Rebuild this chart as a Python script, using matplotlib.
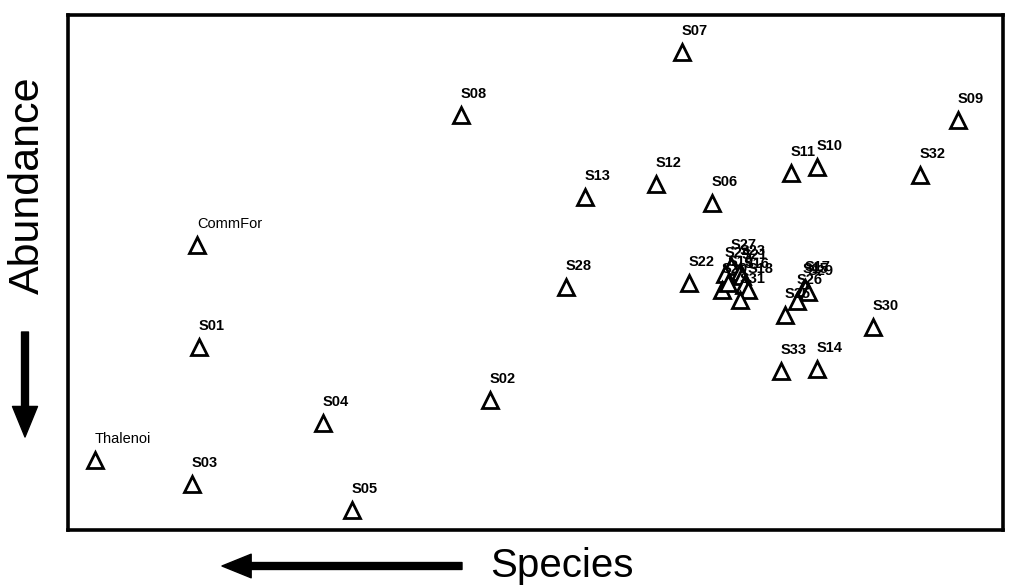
import numpy as np
import matplotlib
matplotlib.use("Agg")
import matplotlib.pyplot as plt

plt.rcParams['font.family'] = ['Liberation Sans', 'DejaVu Sans']

#------------------------------- ordination scores ---------------------------
# arbitrary units (x to the right, y upward)
sites = ["S07", "S08", "S09", "S11", "S10", "S32", "S12", "S13", "S06",
         "CommFor", "S28", "S22",
         "S27", "S24", "S23", "S21", "S20", "S16", "S18", "S19", "S31",
         "S15", "S17", "S29", "S26", "S25",
         "S30", "S01", "S33", "S14", "S02", "S04", "Thalenoi", "S03", "S05"]
axis1 = [614, 393, 890, 723, 749, 852, 588, 517, 644,
         129, 498, 621,
         663, 657, 672, 674, 654, 676, 680, 660, 672,
         735, 737, 740, 729, 717,
         805, 131, 713, 749, 422, 255, 27, 124, 284]
axis2 = [478, 415, 410, 357, 363, 355, 346, 333, 327,
         285, 243, 247,
         264, 256, 258, 254, 240, 245, 240, 247, 230,
         240, 242, 238, 229, 215,
         203, 183, 159, 161, 130, 107, 70, 46, 20]
plain_labels = ["CommFor", "Thalenoi"]

#------------------------------- figure -------------------------------------
fig = plt.figure(figsize=(10.17, 5.87), dpi=100)
ax = fig.add_axes([68/1017, 57/587, 935/1017, 515/587])

ax.plot(axis1, axis2, linestyle='none', marker='^', markersize=12,
        markerfacecolor='white', markeredgecolor='black', markeredgewidth=2.0)

for name, x, y in zip(sites, axis1, axis2):
    ax.annotate(name, (x, y), xytext=(0, 10), textcoords='offset points',
                ha='left', va='bottom', fontsize=10.5,
                fontweight='normal' if name in plain_labels else 'bold')

ax.set_xlim(0, 935)
ax.set_ylim(0, 515)
ax.set_xticks([])
ax.set_yticks([])
for sp in ax.spines.values():
    sp.set_linewidth(2.6)

# axis titles with direction arrows
fig.text(562/1017, 21/587, "Species", fontsize=29, ha='center', va='center')
fig.text(28/1017, 1 - 185/587, "Abundance", fontsize=31, rotation=90,
         ha='center', va='center')

ax.annotate('', xy=(222, 21), xycoords='figure pixels',
            xytext=(462, 21), textcoords='figure pixels',
            arrowprops=dict(facecolor='black', edgecolor='black', width=5,
                            headwidth=17, headlength=21, shrink=0))
ax.annotate('', xy=(25, 587 - 437), xycoords='figure pixels',
            xytext=(25, 587 - 332), textcoords='figure pixels',
            arrowprops=dict(facecolor='black', edgecolor='black', width=5,
                            headwidth=18, headlength=22, shrink=0))

plt.savefig("out.png", dpi=100)
